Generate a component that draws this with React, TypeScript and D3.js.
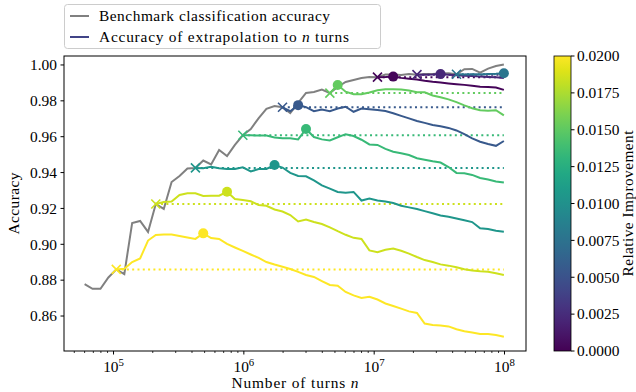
import React from "react";
import * as d3 from "d3";

// Number of turns at which every curve is evaluated
const turns = [
  60000, 69000, 79400, 91300, 105000, 121000, 139000, 160000, 184000, 211000,
  243000, 279000, 321000, 369000, 425000, 488000, 561000, 646000, 743000, 854000,
  982000, 1.13e6, 1.3e6, 1.49e6, 1.72e6, 1.98e6, 2.27e6, 2.61e6, 3.0e6, 3.45e6,
  3.97e6, 4.57e6, 5.25e6, 6.04e6, 6.95e6, 7.99e6, 9.19e6, 1.06e7, 1.22e7, 1.4e7,
  1.61e7, 1.85e7, 2.13e7, 2.44e7, 2.81e7, 3.23e7, 3.72e7, 4.28e7, 4.92e7, 5.65e7,
  6.5e7, 7.48e7, 8.6e7, 9.89e7,
];

// Benchmark classification accuracy at every n
const benchmark = [
  0.8778, 0.8752, 0.8752, 0.8815, 0.886, 0.8834, 0.9119, 0.913, 0.9069, 0.9225,
  0.9197, 0.9347, 0.9381, 0.9423, 0.9426, 0.9467, 0.9445, 0.9526, 0.9492, 0.9554,
  0.9608, 0.9643, 0.9704, 0.9755, 0.9771, 0.9764, 0.9732, 0.9788, 0.9844, 0.9849,
  0.9863, 0.9843, 0.9877, 0.9905, 0.9916, 0.9927, 0.9933, 0.9932, 0.9947, 0.9947,
  0.9944, 0.995, 0.9946, 0.995, 0.995, 0.9953, 0.9954, 0.9948, 0.9976, 0.9978,
  0.9957, 0.998, 0.9994, 1.0002,
];

// Index into `turns` where each extrapolation run begins
const runStart = [4, 9, 14, 20, 25, 31, 37, 42, 47];
// Relative improvement of each run (drives its colour)
const runImprovement = [0.02, 0.0185, 0.0105, 0.0135, 0.0055, 0.0152, 0.0003, 0.0022, 0.0078];

// Accuracy of extrapolation to n turns, one array per run
const run0 = [
  0.886, 0.8863, 0.8901, 0.8921, 0.9021, 0.9052, 0.9055, 0.9054, 0.9046, 0.9038,
  0.903, 0.9061, 0.9035, 0.903, 0.9002, 0.8982, 0.8963, 0.8943, 0.8924, 0.8901,
  0.8887, 0.8875, 0.8862, 0.8846, 0.8829, 0.8818, 0.8795, 0.8773, 0.8769, 0.8734,
  0.8715, 0.8701, 0.8707, 0.8692, 0.867, 0.8656, 0.8641, 0.8626, 0.8617, 0.8558,
  0.855, 0.8547, 0.8542, 0.8526, 0.8515, 0.8508, 0.85, 0.85, 0.8494, 0.8485,
];
const run1 = [
  0.9225, 0.9236, 0.9238, 0.9275, 0.9284, 0.9284, 0.9269, 0.9271, 0.9271, 0.9293,
  0.9253, 0.9247, 0.924, 0.9219, 0.9215, 0.9194, 0.9183, 0.9163, 0.9127, 0.9138,
  0.9124, 0.9113, 0.9094, 0.9073, 0.9053, 0.9036, 0.903, 0.8966, 0.8956, 0.897,
  0.8977, 0.8964, 0.8948, 0.8929, 0.8912, 0.8901, 0.8888, 0.8881, 0.8872, 0.8861,
  0.8854, 0.885, 0.8847, 0.8838, 0.8829,
];
const run2 = [
  0.9426, 0.9424, 0.9432, 0.9424, 0.942, 0.942, 0.9429, 0.9406, 0.942, 0.942,
  0.9442, 0.9428, 0.9398, 0.9381, 0.9379, 0.9356, 0.9329, 0.931, 0.9292, 0.9288,
  0.9292, 0.9244, 0.9255, 0.9244, 0.9239, 0.923, 0.9215, 0.9206, 0.9197, 0.9185,
  0.9173, 0.9161, 0.9154, 0.9144, 0.9134, 0.9124, 0.9089, 0.9085, 0.9075, 0.907,
];
const run3 = [
  0.9608, 0.9608, 0.9606, 0.9606, 0.9596, 0.9591, 0.9591, 0.9585, 0.9643, 0.9598,
  0.9585, 0.9579, 0.9597, 0.9614, 0.9604, 0.9583, 0.9557, 0.9554, 0.9532, 0.9516,
  0.9508, 0.9498, 0.948, 0.9472, 0.9463, 0.9456, 0.9431, 0.9398, 0.9396, 0.9387,
  0.937, 0.9361, 0.935, 0.9344,
];
const run4 = [
  0.9764, 0.9742, 0.9776, 0.9765, 0.9742, 0.9751, 0.9742, 0.9757, 0.9767, 0.9739,
  0.9757, 0.9753, 0.9749, 0.9743, 0.9731, 0.9716, 0.9702, 0.9688, 0.9677, 0.9665,
  0.9658, 0.9649, 0.9635, 0.9614, 0.9591, 0.9572, 0.9559, 0.9549, 0.9576,
];
const run5 = [
  0.9843, 0.9888, 0.9851, 0.9837, 0.9837, 0.9847, 0.9859, 0.9864, 0.9864, 0.9863,
  0.9858, 0.9848, 0.9848, 0.983, 0.982, 0.9808, 0.9793, 0.9775, 0.9759, 0.9748,
  0.9745, 0.9748, 0.9719,
];
const run6 = [
  0.9932, 0.9933, 0.9935, 0.9928, 0.9923, 0.9919, 0.9912, 0.9906, 0.9902, 0.9897,
  0.9893, 0.9889, 0.9884, 0.9879, 0.9877, 0.9874, 0.9861,
];
const run7 = [
  0.9946, 0.9946, 0.9947, 0.9949, 0.9946, 0.9943, 0.994, 0.9938, 0.9935, 0.9933,
  0.9931, 0.9928,
];
const run8 = [0.9948, 0.9947, 0.9948, 0.9947, 0.9949, 0.9951, 0.9954];

const runs = [run0, run1, run2, run3, run4, run5, run6, run7, run8];

const yTicks = [0.86, 0.88, 0.9, 0.92, 0.94, 0.96, 0.98, 1.0];
const xMajor = [1e5, 1e6, 1e7, 1e8];
const cbTicks = [0, 0.0025, 0.005, 0.0075, 0.01, 0.0125, 0.015, 0.0175, 0.02];

const FONT = '"Liberation Serif", "DejaVu Serif", serif';

export default function App() {
  const W = 636;
  const H = 392;
  const left = 64, right = 526, top = 56, bottom = 351;

  const x = d3.scaleLog().domain([10 ** 4.62, 10 ** 8.165]).range([left, right]);
  const y = d3.scaleLinear().domain([0.8405, 1.005]).range([bottom, top]);
  const color = d3.scaleSequential(d3.interpolateViridis).domain([0, 0.02]).clamp(true);
  const cbY = d3.scaleLinear().domain([0, 0.02]).range([bottom, top]);

  const line = d3
    .line<[number, number]>()
    .x((d) => x(d[0]))
    .y((d) => y(d[1]));

  const benchPts: [number, number][] = turns.map((n, i) => [n, benchmark[i]]);

  const xMinor: number[] = [];
  for (let e = 4; e <= 8; e++) {
    for (let m = 2; m <= 9; m++) {
      const v = m * 10 ** e;
      if (v >= x.domain()[0] && v <= x.domain()[1]) xMinor.push(v);
    }
  }

  const runData = runs.map((vals, r) => {
    const s = runStart[r];
    const pts: [number, number][] = vals.map((v, i) => [turns[s + i], v]);
    const best = d3.maxIndex(vals);
    return {
      pts,
      col: color(runImprovement[r]),
      start: pts[0],
      best: pts[best],
      end: pts[pts.length - 1],
    };
  });

  const gradStops = d3.range(0, 1.0001, 0.05);
  const xMark = "M-4.5,-4.5L4.5,4.5M-4.5,4.5L4.5,-4.5";
  const txt = { fontFamily: FONT };
  const fs = 15.4;

  return (
    <svg
      width={W}
      height={H}
      style={{ position: "absolute", left: 0, top: 0, background: "#fff", fontFamily: FONT }}
    >
      <defs>
        <clipPath id="plotArea">
          <rect x={left} y={top} width={right - left} height={bottom - top} />
        </clipPath>
        <linearGradient id="viridisBar" x1="0" y1="1" x2="0" y2="0">
          {gradStops.map((t) => (
            <stop key={t} offset={t} stopColor={d3.interpolateViridis(t)} />
          ))}
        </linearGradient>
      </defs>
      <rect width={W} height={H} fill="#fff" />

      {/* curves */}
      <g clipPath="url(#plotArea)">
        <path d={line(benchPts) || ""} fill="none" stroke="#808080" strokeWidth={2} />
        {runData.map((r, i) => (
          <g key={i}>
            <path d={line(r.pts) || ""} fill="none" stroke={r.col} strokeWidth={2} />
            <line
              x1={x(r.start[0])}
              x2={x(r.end[0])}
              y1={y(r.start[1])}
              y2={y(r.start[1])}
              stroke={r.col}
              strokeWidth={2}
              strokeDasharray="2,3.3"
            />
            <path
              d={xMark}
              transform={`translate(${x(r.start[0])},${y(r.start[1])})`}
              stroke={r.col}
              strokeWidth={1.6}
              fill="none"
            />
            <circle cx={x(r.best[0])} cy={y(r.best[1])} r={5} fill={r.col} />
          </g>
        ))}
      </g>

      {/* frame */}
      <rect
        x={left}
        y={top}
        width={right - left}
        height={bottom - top}
        fill="none"
        stroke="#000"
        strokeWidth={1}
      />

      {/* y axis */}
      {yTicks.map((t) => (
        <g key={t} transform={`translate(0,${y(t)})`}>
          <line x1={left - 3.5} x2={left} stroke="#000" strokeWidth={1} />
          <text x={left - 7} dy="0.34em" textAnchor="end" fontSize={fs} style={txt}>
            {t.toFixed(2)}
          </text>
        </g>
      ))}
      <text
        transform={`translate(19,${(top + bottom) / 2}) rotate(-90)`}
        textAnchor="middle"
        fontSize={fs}
        textLength={62}
        lengthAdjust="spacing"
        style={txt}
      >
        Accuracy
      </text>

      {/* x axis */}
      {xMinor.map((v) => (
        <line key={v} x1={x(v)} x2={x(v)} y1={bottom} y2={bottom + 2} stroke="#000" strokeWidth={0.8} />
      ))}
      {xMajor.map((v) => (
        <g key={v} transform={`translate(${x(v)},0)`}>
          <line y1={bottom} y2={bottom + 3.5} stroke="#000" strokeWidth={1} />
          <text y={bottom + 21} textAnchor="middle" fontSize={fs} style={txt}>
            10
            <tspan fontSize={10.8} dy={-6}>
              {Math.round(Math.log10(v))}
            </tspan>
          </text>
        </g>
      ))}
      <text
        x={(left + right) / 2}
        y={388}
        textAnchor="middle"
        fontSize={fs}
        textLength={127}
        lengthAdjust="spacing"
        style={txt}
      >
        Number of turns <tspan fontStyle="italic">n</tspan>
      </text>

      {/* colour bar */}
      <rect x={554} y={top} width={17} height={bottom - top} fill="url(#viridisBar)" stroke="#000" strokeWidth={0.8} />
      {cbTicks.map((t) => (
        <g key={t} transform={`translate(0,${cbY(t)})`}>
          <line x1={571} x2={574.5} stroke="#000" strokeWidth={1} />
          <text x={577} dy="0.34em" fontSize={fs} style={txt}>
            {t.toFixed(4)}
          </text>
        </g>
      ))}
      <text
        transform={`translate(633,${(top + bottom) / 2}) rotate(-90)`}
        textAnchor="middle"
        fontSize={fs}
        textLength={146}
        lengthAdjust="spacing"
        style={txt}
      >
        Relative Improvement
      </text>

      {/* legend */}
      <rect x={64.5} y={4.5} width={316} height={44} rx={3} fill="#fff" fillOpacity={0.8} stroke="#cccccc" strokeWidth={1} />
      <line x1={70} x2={89} y1={16} y2={16} stroke="#808080" strokeWidth={2} />
      <text x={99} y={21} fontSize={fs} textLength={231} lengthAdjust="spacing" style={txt}>
        Benchmark classification accuracy
      </text>
      <line x1={70} x2={89} y1={37} y2={37} stroke={d3.interpolateViridis(0.2)} strokeWidth={2} />
      <text x={99} y={42} fontSize={fs} textLength={250} lengthAdjust="spacing" style={txt}>
        Accuracy of extrapolation to <tspan fontStyle="italic">n</tspan> turns
      </text>
    </svg>
  );
}
